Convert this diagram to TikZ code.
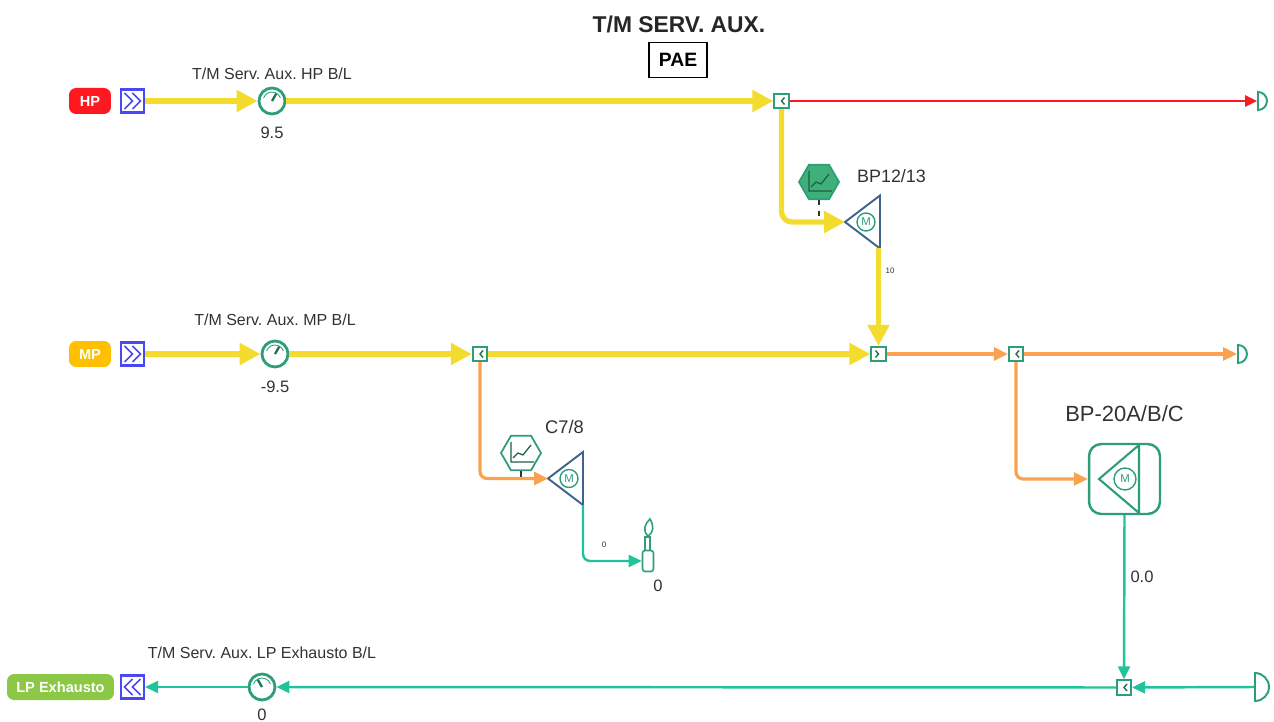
\documentclass[tikz,border=0pt]{standalone}
\usepackage{fontspec}
\setmainfont{Liberation Sans}
\definecolor{steamhp}{RGB}{243, 220, 46}
\definecolor{steammp}{RGB}{250, 162, 80}
\definecolor{steamlp}{RGB}{32, 196, 154}
\definecolor{hpred}{RGB}{255, 24, 32}
\definecolor{mpamber}{RGB}{255, 192, 0}
\definecolor{lpgreen}{RGB}{140, 200, 70}
\definecolor{symbolgreen}{RGB}{46, 158, 122}
\definecolor{hexgreen}{RGB}{62, 176, 120}
\definecolor{pumpblue}{RGB}{62, 100, 140}
\definecolor{linkblue}{RGB}{72, 72, 245}
\definecolor{labelgray}{RGB}{50, 50, 50}
\usetikzlibrary{shapes.geometric, arrows.meta, positioning}
\frenchspacing

\begin{document}
\begin{tikzpicture}[
    x=0.02cm, y=-0.02cm,
    tag/.style={fill=#1, rounded corners=4pt, text=white, inner sep=0pt, minimum height=0.52cm,
                font=\fontsize{8.3}{10}\selectfont\bfseries},
    note/.style={text=labelgray, inner sep=0pt, font=\fontsize{#1}{#1}\selectfont},
    linkin/.style={draw=linkblue, line width=1.2pt, minimum size=0.46cm, inner sep=0pt,
                   path picture={\draw[linkblue, line width=0.9pt, shift={(path picture bounding box.center)}]
                       (-8,-8) -- (0,0) -- (-8,8) (0,-8) -- (8,0) -- (0,8);}},
    linkout/.style={draw=linkblue, line width=1.2pt, minimum size=0.46cm, inner sep=0pt,
                   path picture={\draw[linkblue, line width=0.9pt, shift={(path picture bounding box.center)}]
                       (8,-8) -- (0,0) -- (8,8) (0,-8) -- (-8,0) -- (0,8);}},
    gauge/.style={circle, draw=symbolgreen, line width=1.6pt, fill=white, minimum size=0.52cm, inner sep=0pt,
                  path picture={\draw[symbolgreen!70!black, line width=1.3pt, shift={(path picture bounding box.center)}]
                       (0,0) -- (#1:0.17cm);
                       \draw[symbolgreen, line width=0.5pt, shift={(path picture bounding box.center)}]
                       (160:0.18cm) arc[start angle=160, end angle=20, radius=0.18cm];}},
    junction/.style={draw=symbolgreen, line width=1pt, fill=white, minimum size=0.29cm, inner sep=0pt,
                     path picture={\draw[symbolgreen!70!black, line width=0.8pt, shift={(path picture bounding box.center)}]
                       (#1,-3.5) -- (0,0) -- (#1,3.5);}},
    endcap/.style={semicircle, rotate=-90, draw=symbolgreen, line width=1.1pt,
                   anchor=chord center, minimum width=#1, inner sep=0pt},
    pump/.style={isosceles triangle, isosceles triangle stretches, shape border rotate=180,
                 draw=pumpblue, line width=1.1pt, minimum height=0.7cm, minimum width=1.06cm,
                 inner sep=0pt, outer sep=0pt, anchor=apex},
    motor/.style={circle, draw=symbolgreen, line width=0.8pt, minimum size=#1, inner sep=0pt,
                  font=\fontsize{6.5}{7}\selectfont, text=symbolgreen},
    trend/.style={regular polygon, regular polygon sides=6, draw=symbolgreen, line width=1pt, fill=#1,
                  minimum size=0.8cm, inner sep=0pt,
                  path picture={\draw[symbolgreen!60!black, line width=0.7pt, shift={(path picture bounding box.center)}]
                       (-10,-11) -- (-10,9) -- (13,9) (-8,5) -- (-3,0) -- (2,2) -- (10,-8);}},
    hpline/.style={draw=steamhp, line width=3pt, rounded corners=6pt,
                   -{Triangle[length=0.42cm, width=0.42cm]}},
    mpline/.style={draw=steammp, line width=1.8pt, rounded corners=4pt,
                   -{Triangle[length=0.28cm, width=0.26cm]}},
    lpline/.style={draw=steamlp, line width=1.4pt, rounded corners=4pt,
                   -{Triangle[length=0.26cm, width=0.24cm]}},
    redline/.style={draw=hpred, line width=1.5pt, -{Triangle[length=0.24cm, width=0.22cm]}},
    stem/.style={draw=labelgray, line width=0.9pt}
]
    \useasboundingbox (0,0) rectangle (1274,722);

    % title
    \node[inner sep=0pt, text=black!85, font=\fontsize{13}{15}\selectfont\bfseries] (title) at (679,24) {T/M SERV. AUX.};
    \node[draw=black, line width=0.8pt, minimum width=1.16cm, minimum height=0.7cm, inner sep=0pt,
          font=\fontsize{11}{13}\selectfont\bfseries] (pae) at (678,60) {PAE};

    % HP header
    \node[tag=hpred, minimum width=0.84cm] (hp) at (90,101) {HP};
    \node[linkin] (hpin) at (132.5,101) {};
    \node[gauge=60] (hpgauge) at (272,101) {};
    \node[note=9.1] (hpname) at (272,74) {T/M Serv. Aux. HP B/L};
    \node[note=9.4] (hpvalue) at (272,133) {9.5};
    \node[junction=3] (hpsplit) at (781.5,101) {};
    \node[endcap=0.36cm] (hpend) at (1257,101) {};

    % MP header
    \node[tag=mpamber, minimum width=0.84cm] (mp) at (90,354) {MP};
    \node[linkin] (mpin) at (132.5,354) {};
    \node[gauge=60] (mpgauge) at (275,354) {};
    \node[note=9.1] (mpname) at (275,320) {T/M Serv. Aux. MP B/L};
    \node[note=9.4] (mpvalue) at (275,387) {-9.5};
    \node[junction=3] (mpsplit) at (480,354) {};
    \node[junction=-3] (mpjoin) at (878.5,354) {};
    \node[junction=3] (orangesplit) at (1016,354) {};
    \node[endcap=0.36cm] (mpend) at (1237,354) {};

    % LP header
    \node[tag=lpgreen, minimum width=2.14cm] (lp) at (60.5,687) {LP Exhausto};
    \node[linkout] (lpout) at (132.5,687) {};
    \node[gauge=120] (lpgauge) at (262,687) {};
    \node[note=9.1] (lpname) at (262,653) {T/M Serv. Aux. LP Exhausto B/L};
    \node[note=9.4] (lpvalue) at (262,715) {0};
    \node[junction=3] (lpjoin) at (1124,687.5) {};
    \node[endcap=0.56cm] (lpend) at (1254,687) {};

    % BP12/13
    \node[pump] (bp) at (845,222) {};
    \node[motor=0.36cm] (bpmotor) at (866,222) {M};
    \node[trend=hexgreen] (bptrend) at (819,182) {};
    \node[note=10.2] (bpname) at (891.5,176) {BP12/13};
    \node[note=4.5] (bpflow) at (890,271) {10};
    \coordinate (bpstem) at (819,216);

    % C7/8
    \node[pump] (cc) at (548,478.5) {};
    \node[motor=0.36cm] (ccmotor) at (569,478.5) {M};
    \node[trend=white] (cctrend) at (521,453) {};
    \node[note=10.4] (ccname) at (564.5,427) {C7/8};
    \node[note=4.5] (ccflow) at (604,545) {0};
    \node[draw=symbolgreen, line width=0.9pt, rounded corners=1.5pt, minimum width=0.22cm, minimum height=0.42cm,
          inner sep=0pt] (flare) at (648,561) {};
    \node[note=9.4] (flarevalue) at (658,586) {0};
    \draw[symbolgreen, line width=0.9pt] (flare.north west) ++(3,0) -- ++(0,-13) -- ++(5,0) -- ++(0,13);
    \draw[symbolgreen, line width=0.9pt] (648,536) .. controls (642,530) and (645,524) .. (650,519)
        .. controls (654,526) and (654,532) .. (648,536);

    % BP-20A/B/C
    \node[draw=symbolgreen, line width=1.4pt, rounded corners=7pt, fill=white, minimum width=1.42cm, minimum height=1.4cm,
          inner sep=0pt] (bp20) at (1124.5,479) {};
    \node[motor=0.44cm] (bp20motor) at (1125,479) {M};
    \draw[symbolgreen, line width=1.2pt] (1139,445) -- (1139,513) -- (1099,479) -- cycle;
    \node[note=12.5] (bp20name) at (1124.5,414) {BP-20A/B/C};
    \node[note=9.4] (bp20flow) at (1142,577) {0.0};

    % HP steam
    \draw[hpline] (hpin) -- (hpgauge);
    \draw[hpline] (hpgauge) -- (hpsplit);
    \draw[redline] (hpsplit) -- (hpend.chord center);
    \draw[stem, dashed] (bptrend.south) -- (bpstem);
    \draw[hpline] (hpsplit.south) |- (bp.apex);
    \draw[hpline] (mpjoin.north |- bp.left corner) -- (mpjoin.north);

    % MP steam
    \draw[hpline] (mpin) -- (mpgauge);
    \draw[hpline] (mpgauge) -- (mpsplit);
    \draw[hpline] (mpsplit) -- (mpjoin);
    \draw[mpline] (mpjoin) -- (orangesplit);
    \draw[mpline] (orangesplit) -- (mpend.chord center);
    \draw[stem] (cctrend.south) -- (cctrend.south |- cc.apex);
    \draw[mpline] (mpsplit.south) |- (cc.apex);
    \draw[mpline] (orangesplit.south) |- (bp20.west);

    % LP steam
    \draw[lpline] (cc.left corner) |- (flare.west);
    \draw[lpline] (bp20.south) -- (lpjoin.north);
    \draw[lpline] (lpend.chord center) -- (lpjoin);
    \draw[lpline] (lpjoin) -- (lpgauge);
    \draw[lpline] (lpgauge) -- (lpout);
\end{tikzpicture}
\end{document}
